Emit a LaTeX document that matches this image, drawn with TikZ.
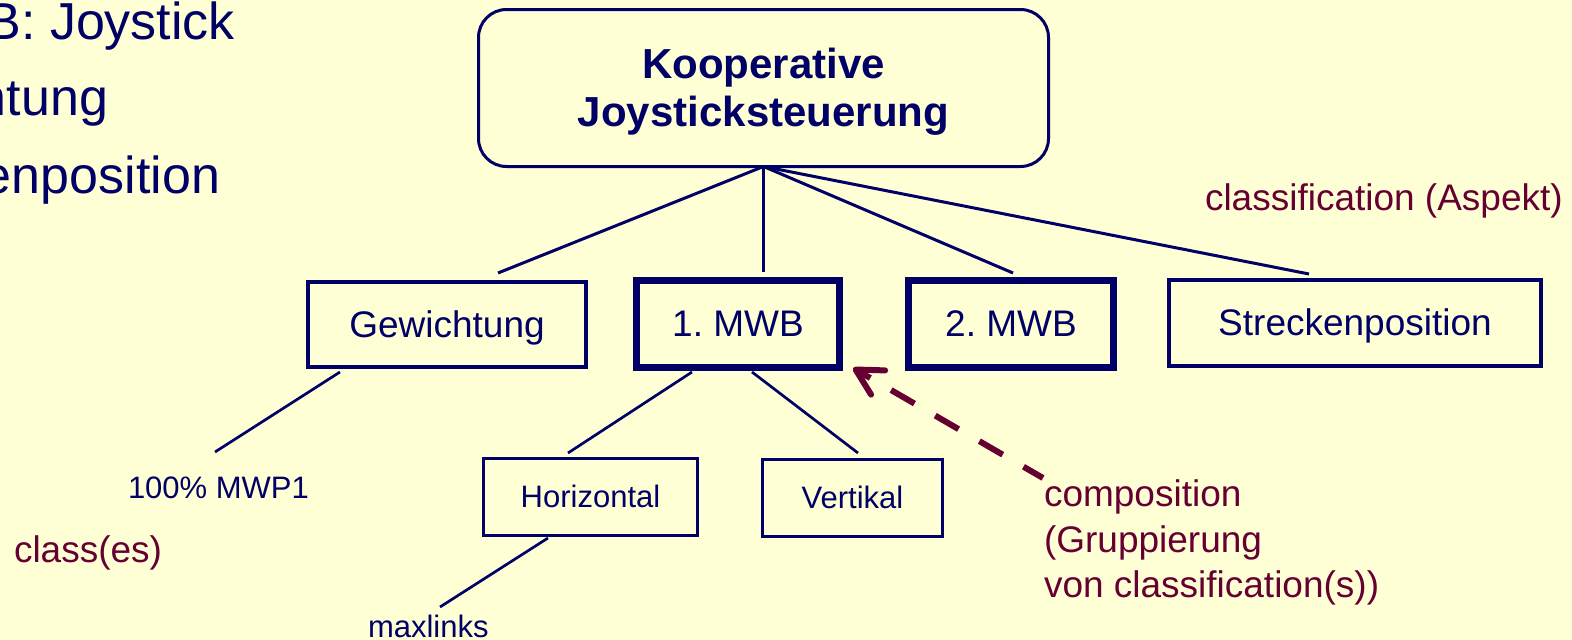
\documentclass[tikz,border=0pt]{standalone}
\usepackage{fontspec}
\setmainfont{Liberation Sans}
\usetikzlibrary{arrows.meta}
\definecolor{navy}{HTML}{000066}
\definecolor{wine}{HTML}{660033}
\definecolor{paper}{HTML}{FFFFD6}
% strut for the two-line title: 38pt above, 8.9pt below the baseline
\newcommand\titlestrut{\rule[-8.9pt]{0pt}{46.9pt}}
\frenchspacing
\begin{document}
\begin{tikzpicture}[x=1pt,y=-1pt,
  every node/.style={inner sep=0pt,outer sep=0pt},
  rootbox/.style={draw=navy,line width=3pt,rounded corners=28pt,text=navy,
    font=\bfseries\fontsize{42}{48}\selectfont,align=center},
  catbox/.style={draw=navy,line width=4pt,text=navy,
    font=\fontsize{37}{44}\selectfont,text height=33.5pt,text depth=7.8pt},
  heavybox/.style={catbox,line width=7pt},
  subbox/.style={draw=navy,line width=3pt,text=navy,
    font=\fontsize{31}{37}\selectfont,text height=28pt,text depth=6.6pt},
  tree/.style={draw=navy,line width=3pt},
  twig/.style={draw=navy,line width=2.7pt},
  leaf/.style={text=navy,font=\fontsize{31}{37}\selectfont,anchor=base west},
  bullet/.style={text=navy,font=\fontsize{52}{62}\selectfont,anchor=base east},
  note/.style={text=wine,font=\fontsize{37}{44}\selectfont,anchor=base west},
]
\fill[paper] (0,0) rectangle (1572,640);
\useasboundingbox (0,0) rectangle (1572,640);
\clip (0,0) rectangle (1572,640);

% bullet list running off the left edge
\node[bullet] (itemA) at (235,39) {MWB: Joystick};
\node[bullet] (itemB) at (108,115) {Gewichtung};
\node[bullet] (itemC) at (220,193) {Streckenposition};

% root of the tree
\node[rootbox,minimum width=570pt,minimum height=157pt] (root) at (763.5,88)
  {\titlestrut Kooperative\\\titlestrut Joysticksteuerung};

% classifications
\node[catbox,minimum width=278pt,minimum height=85pt] (gew) at (447,324.5) {Gewichtung};
\node[heavybox,minimum width=203pt,minimum height=87pt] (mwb1) at (738,324) {1. MWB};
\node[heavybox,minimum width=205pt,minimum height=87pt] (mwb2) at (1011,324) {2. MWB};
\node[catbox,minimum width=372pt,minimum height=86pt] (strecke) at (1355,323) {Streckenposition};

% classes below 1. MWB
\node[subbox,minimum width=214pt,minimum height=77pt] (hor) at (590.5,497) {Horizontal};
\node[subbox,minimum width=180pt,minimum height=77pt] (ver) at (852.5,498) {Vertikal};

% leaf values
\node[leaf] (pct) at (128,498) {100\% MWP1};
\node[leaf] (maxl) at (368,637) {maxlinks};

% annotations
\node[note] (classes) at (14,562) {class(es)};
\node[note] (aspect) at (1205,210) {classification (Aspekt)};
\node[note] (comp1) at (1044,506) {composition};
\node[note] (comp2) at (1044,552) {(Gruppierung};
\node[note] (comp3) at (1044,597) {von classification(s))};

% connector end points (lines stop short of the boxes)
\coordinate (gewTop) at (498,273);
\coordinate (mwb1Top) at (763.5,272);
\coordinate (mwb2Top) at (1013,273);
\coordinate (streckeTop) at (1309,274);
\coordinate (gewFoot) at (340,372);
\coordinate (pctTop) at (215,452);
\coordinate (mwbFootL) at (692,372);
\coordinate (horTop) at (568,453);
\coordinate (mwbFootR) at (752,372);
\coordinate (verTop) at (858,453);
\coordinate (horFoot) at (548,538);
\coordinate (maxTop) at (440,607);
\coordinate (compTip) at (853,368);
\coordinate (compTail) at (1043,478);

\draw[tree] (root.south) -- (gewTop);
\draw[tree] (root.south) -- (mwb1Top);
\draw[tree] (root.south) -- (mwb2Top);
\draw[tree] (root.south) -- (streckeTop);

\draw[twig] (gewFoot) -- (pctTop);
\draw[twig] (mwbFootL) -- (horTop);
\draw[twig] (mwbFootR) -- (verTop);
\draw[twig] (horFoot) -- (maxTop);

% composition groups the 1. MWB classification
\draw[wine,line width=6pt,dash pattern=on 27pt off 24pt,dash phase=13pt,
  {Straight Barb[length=26pt,width=28pt,line cap=round,line join=round]}-]
  (compTip) -- (compTail);
\end{tikzpicture}
\end{document}
